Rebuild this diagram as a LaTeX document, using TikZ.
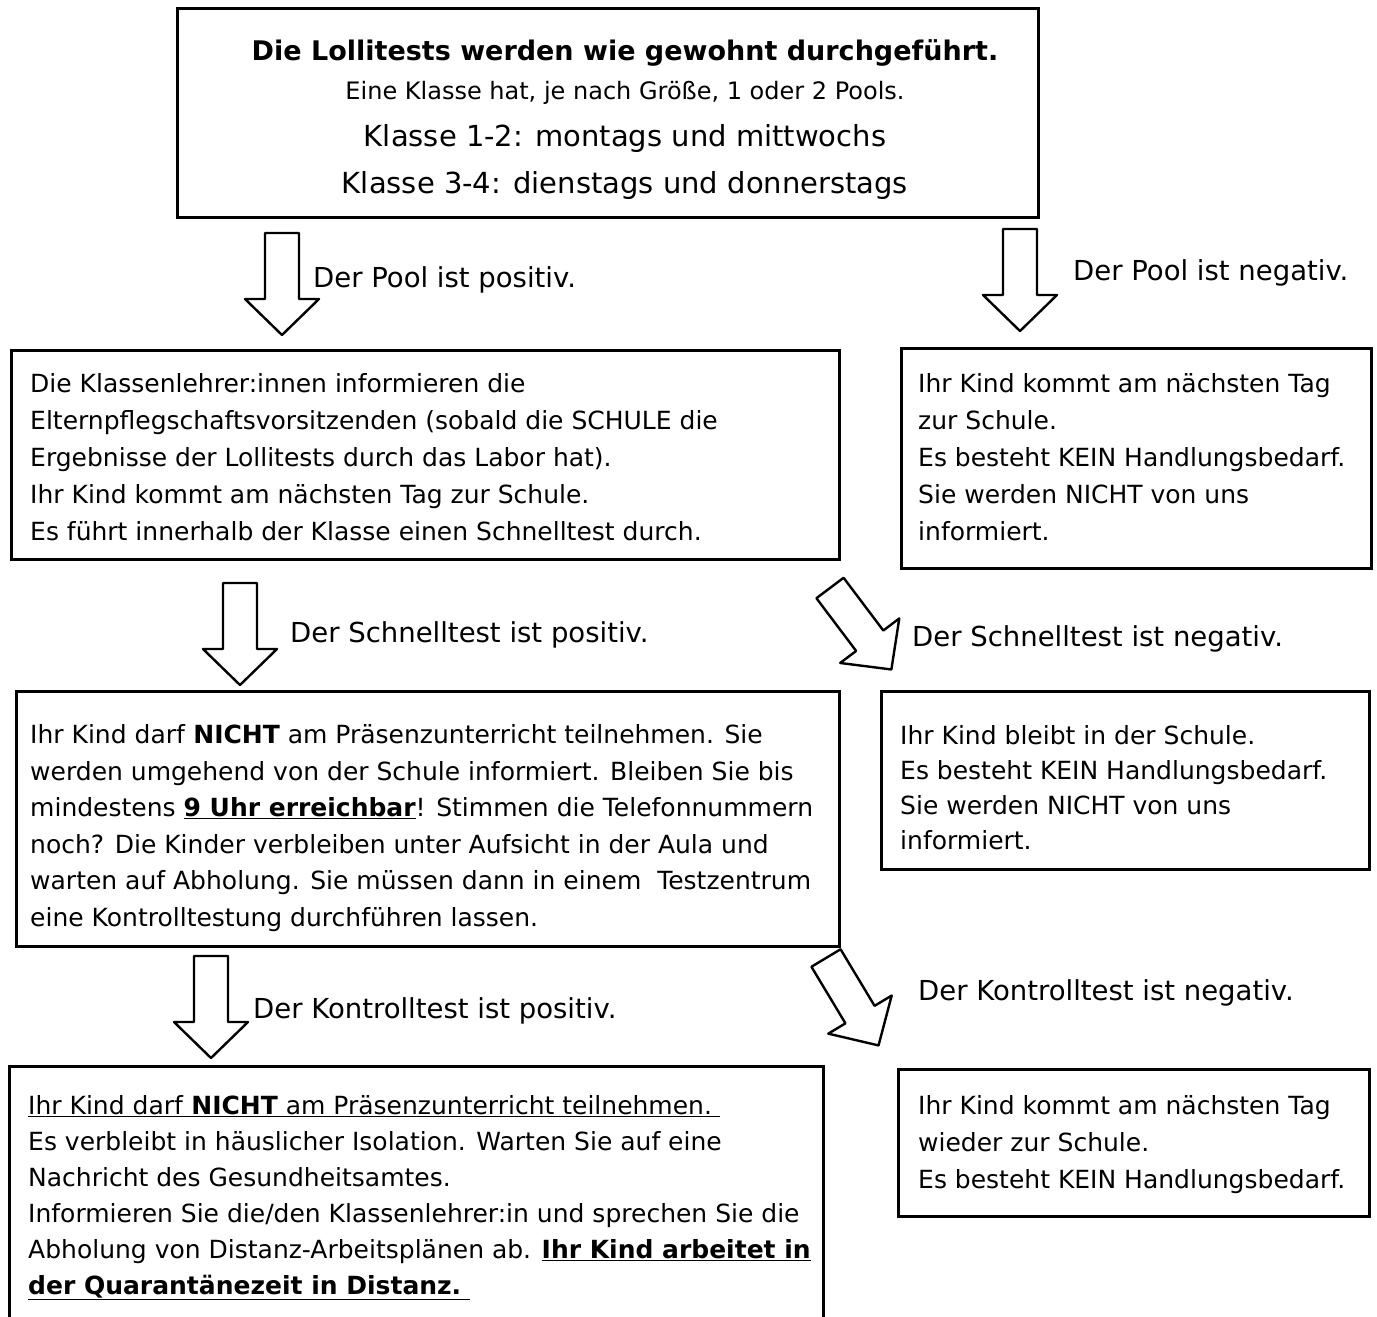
\documentclass[tikz,border=0pt]{standalone}
\usepackage{fontspec}
\setmainfont{DejaVu Sans}
\usetikzlibrary{positioning,calc}

\tikzstyle{panel} = [draw, rectangle, line width = 2.6pt, inner sep = 0pt, anchor = north west]
\tikzstyle{txt} = [anchor = base west, align = left, inner sep = 0pt, font = \fontsize{25}{37}\selectfont]
\tikzstyle{lbl} = [anchor = base west, inner sep = 0pt, font = \fontsize{27.5}{30}\selectfont]
\tikzset{
	bigarrow/.pic = {
		\draw[line width = 2.4pt, line join = round, fill = white]
		(-17,0) -- (17,0) -- (17,66) -- (37,66) -- (0,102) -- (-37,66) -- (-17,66) -- cycle;
		\coordinate (-tip) at (0,102);
	}
}

\begin{document}
\begin{tikzpicture}[x = 1pt, y = -1pt]
	
	\useasboundingbox (0,0) rectangle (1377,1317);
	\clip (0,0) rectangle (1377,1317);
	
	% Start (text nodes sit on the baseline of their last line)
	\node[panel, minimum width = 861, minimum height = 209] (start) at (176,7) {};
	\node[align = center, anchor = base, inner sep = 0pt, font = \fontsize{29}{47}\selectfont] (starttxt) at (625,193)
	{{\fontsize{27}{47}\selectfont\bfseries Die Lollitests werden wie gewohnt durchgeführt.}\\[-8pt]
		{\fontsize{24}{47}\selectfont Eine Klasse hat, je nach Größe, 1 oder 2 Pools.}\\
		Klasse 1-2: montags und mittwochs\\
		Klasse 3-4: dienstags und donnerstags};
	
	% Pool positive / negative
	\pic (a1) at (282,233) {bigarrow};
	\node[lbl] (poolpos) at (313,287) {Der Pool ist positiv.};
	\pic (a2) at (1020,229) {bigarrow};
	\node[lbl] (poolneg) at (1073,280) {Der Pool ist negativ.};
	
	\node[panel, minimum width = 828, minimum height = 209] (info) at (10,349) {};
	\node[txt] (infotxt) at (30,540)
	{Die Klassenlehrer:innen informieren die\\
		Elternpflegschaftsvorsitzenden (sobald die SCHULE die\\
		Ergebnisse der Lollitests durch das Labor hat).\\
		Ihr Kind kommt am nächsten Tag zur Schule.\\
		Es führt innerhalb der Klasse einen Schnelltest durch.};
	
	\node[panel, minimum width = 470, minimum height = 220] (stay) at (900,347) {};
	\node[txt] (staytxt) at (918,540)
	{Ihr Kind kommt am nächsten Tag\\
		zur Schule.\\
		Es besteht KEIN Handlungsbedarf.\\
		Sie werden NICHT von uns\\
		informiert.};
	
	% Schnelltest
	\pic (a3) at (240,583) {bigarrow};
	\node[lbl] (fastpos) at (290,642) {Der Schnelltest ist positiv.};
	\pic[rotate = 37] (a4) at (830,588) {bigarrow};
	\node[lbl] (fastneg) at (912,646) {Der Schnelltest ist negativ.};
	
	\node[panel, minimum width = 823, minimum height = 255] (home) at (15,690) {};
	\node[txt, font = \fontsize{25}{36.5}\selectfont] (hometxt) at (30,926)
	{Ihr Kind darf \textbf{NICHT} am Präsenzunterricht teilnehmen. Sie\\
		werden umgehend von der Schule informiert. Bleiben Sie bis\\
		mindestens \underline{\textbf{9 Uhr erreichbar}}! Stimmen die Telefonnummern\\
		noch? Die Kinder verbleiben unter Aufsicht in der Aula und\\
		warten auf Abholung. Sie müssen dann in einem \ Testzentrum\\
		eine Kontrolltestung durchführen lassen.};
	
	\node[panel, minimum width = 488, minimum height = 178] (school) at (880,690) {};
	\node[txt, font = \fontsize{25}{35}\selectfont] (schooltxt) at (900,849)
	{Ihr Kind bleibt in der Schule.\\
		Es besteht KEIN Handlungsbedarf.\\
		Sie werden NICHT von uns\\
		informiert.};
	
	% Kontrolltest
	\pic (a5) at (211,956) {bigarrow};
	\node[lbl] (ctrlpos) at (253,1018) {Der Kontrolltest ist positiv.};
	\pic[rotate = 31] (a6) at (826,958) {bigarrow};
	\node[lbl] (ctrlneg) at (918,1000) {Der Kontrolltest ist negativ.};
	
	\node[panel, minimum width = 814, minimum height = 300] (quar) at (8,1065) {};
	\node[txt, font = \fontsize{25}{36}\selectfont] (quartxt) at (28,1294)
	{\underline{Ihr Kind darf \textbf{NICHT} am Präsenzunterricht teilnehmen.\ }\\
		Es verbleibt in häuslicher Isolation. Warten Sie auf eine\\
		Nachricht des Gesundheitsamtes.\\
		Informieren Sie die/den Klassenlehrer:in und sprechen Sie die\\
		Abholung von Distanz-Arbeitsplänen ab. \underline{\textbf{Ihr Kind arbeitet in}}\\
		\underline{\textbf{der Quarantänezeit in Distanz.\ }}};
	
	\node[panel, minimum width = 471, minimum height = 147] (back) at (897,1068) {};
	\node[txt] (backtxt) at (918,1188)
	{Ihr Kind kommt am nächsten Tag\\
		wieder zur Schule.\\
		Es besteht KEIN Handlungsbedarf.};
	
\end{tikzpicture}
\end{document}
